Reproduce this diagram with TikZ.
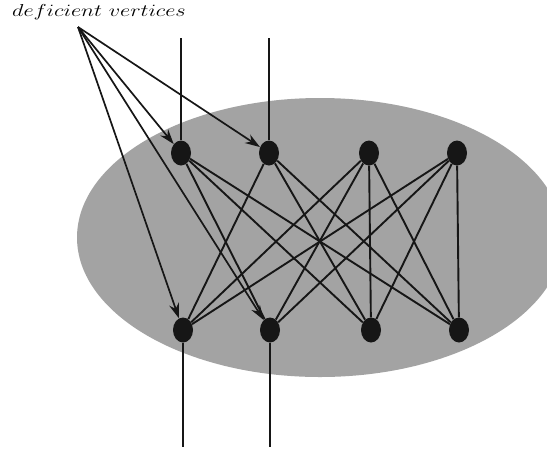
\documentclass[tikz,border=0pt]{standalone}
\usetikzlibrary{arrows.meta,shapes.geometric}
\definecolor{blobgray}{HTML}{A3A3A3}
\definecolor{ink}{HTML}{161616}
\begin{document}
\begin{tikzpicture}[x=1pt,y=-1pt,
  vtx/.style={ellipse,fill=ink,inner sep=0pt,minimum width=20pt,minimum height=25pt},
  edge/.style={draw=ink,line width=1.9pt},
  pointer/.style={draw=ink,line width=1.7pt,-{Stealth[length=15pt,width=10pt]}}]
\useasboundingbox (0,0) rectangle (547,451);
\begin{scope}
\clip (0,0) rectangle (547,451);
\fill[blobgray] (320,237.5) ellipse [x radius=243, y radius=139.5];
\end{scope}
% vertices
\node[vtx] (t1) at (181,153) {};
\node[vtx] (t2) at (269,153) {};
\node[vtx] (t3) at (369,153) {};
\node[vtx] (t4) at (457,153) {};
\node[vtx] (b1) at (183,330) {};
\node[vtx] (b2) at (270,330) {};
\node[vtx] (b3) at (371,330) {};
\node[vtx] (b4) at (459,330) {};
% free ends
\coordinate (u1) at (181,38);
\coordinate (u2) at (269,38);
\coordinate (d1) at (183,447);
\coordinate (d2) at (270,447);
\draw[edge] (u1) -- (t1);
\draw[edge] (u2) -- (t2);
\draw[edge] (b1) -- (d1);
\draw[edge] (b2) -- (d2);
% bipartite edges
\foreach \a/\b in {t1/b2,t1/b3,t1/b4,t2/b1,t2/b3,t2/b4,t3/b1,t3/b2,t3/b3,t3/b4,t4/b1,t4/b2,t4/b3,t4/b4}
  \draw[edge] (\a) -- (\b);
% label
\node[anchor=base west,inner sep=0pt,font=\fontsize{17.5}{20}\selectfont] (lab) at (12,16) {\scalebox{1.29}[1]{$deficient\ vertices$}};
\coordinate (apex) at (78,27);
\foreach \t in {t1,t2,b1,b2}
  \draw[pointer] (apex) -- (\t);
\end{tikzpicture}
\end{document}
